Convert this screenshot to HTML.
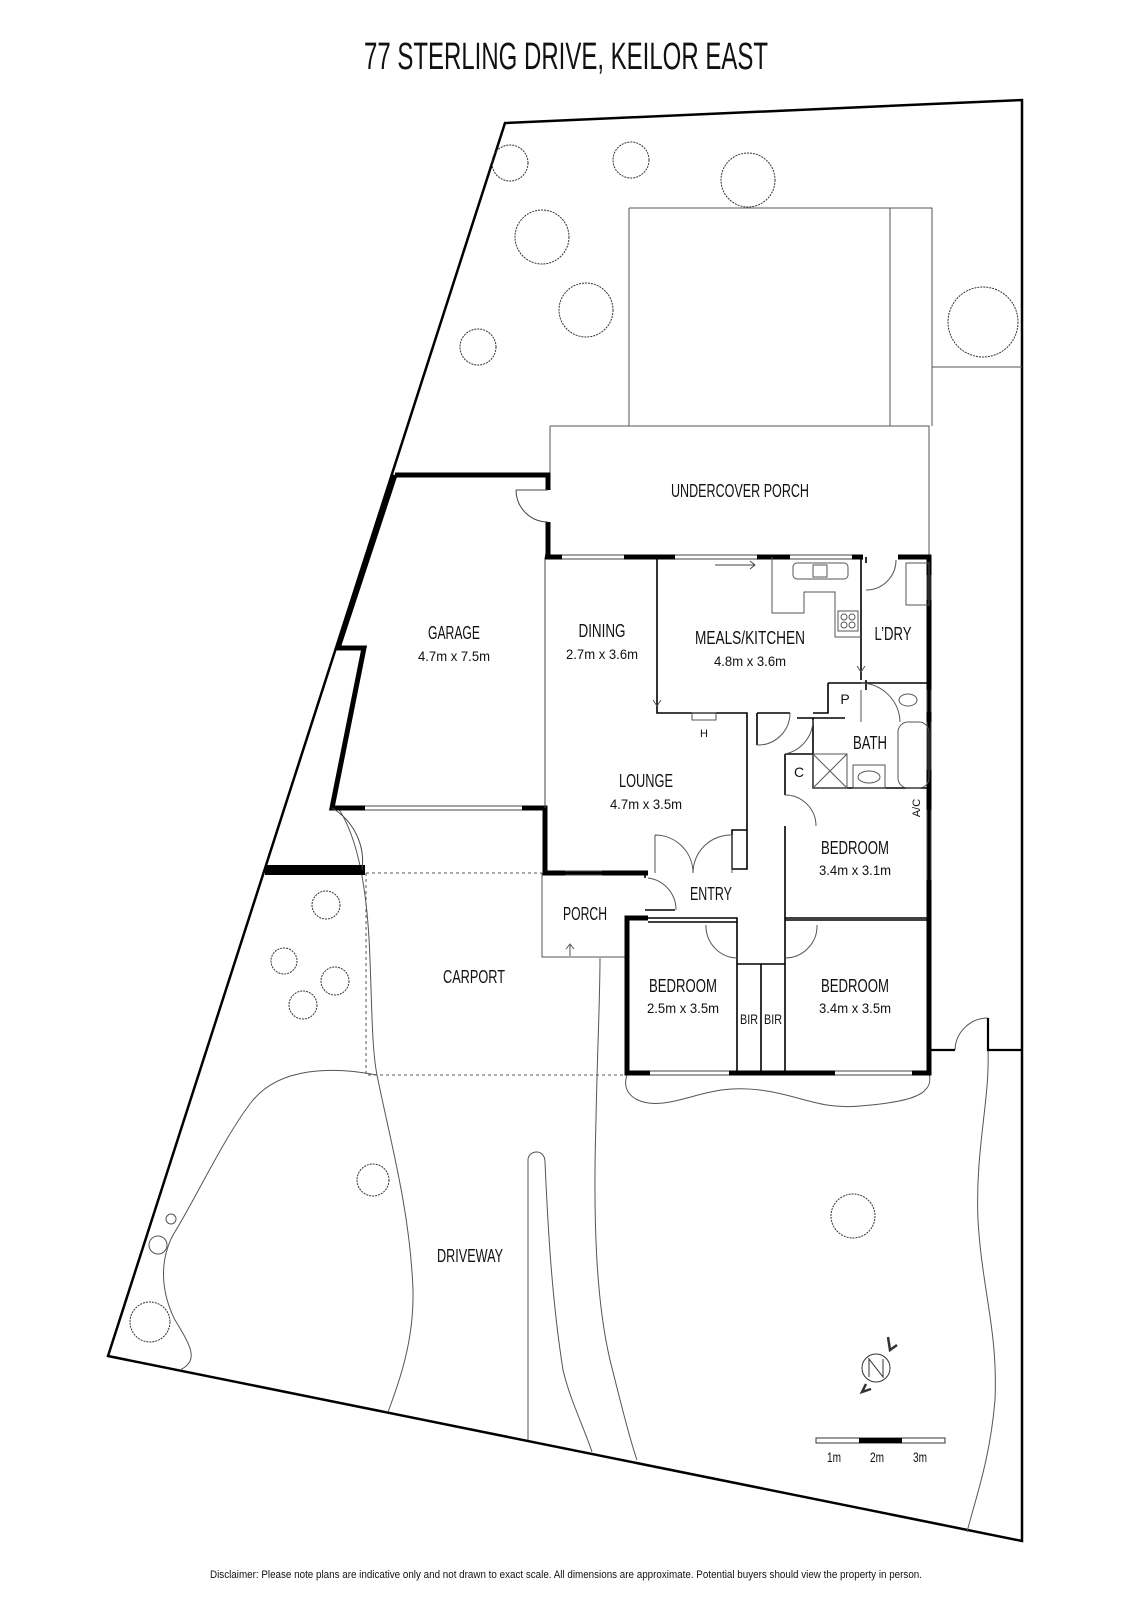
<!DOCTYPE html>
<html><head><meta charset="utf-8"><style>
html,body{margin:0;padding:0;background:#fff;}
svg{display:block;}
text{font-family:"Liberation Sans Narrow","Liberation Sans",sans-serif;fill:#111;text-anchor:middle;}
.l{font-size:18px;}
.d{font-size:14px;}
</style></head><body>
<svg width="1131" height="1600" viewBox="0 0 1131 1600" xmlns="http://www.w3.org/2000/svg">
<rect width="1131" height="1600" fill="#fff"/>
<text x="566" y="69" style="font-size:38px" textLength="404" lengthAdjust="spacingAndGlyphs">77 STERLING DRIVE, KEILOR EAST</text>

<polygon points="505,123 1022,100 1022,1541 108,1356" fill="none" stroke="#000" stroke-width="2.5"/>

<g fill="none" stroke="#555" stroke-width="1">
<path d="M629,208 H932 V426 M629,208 V426 M890,208 V426 M932,367 H1022"/>
<path d="M550,426 H929 V557 M550,426 V475"/>
<g stroke="#333" stroke-dasharray="2 1">
<circle cx="510" cy="163" r="18"/><circle cx="631" cy="160" r="18"/><circle cx="748" cy="180" r="27"/>
<circle cx="542" cy="237" r="27"/><circle cx="586" cy="310" r="27"/><circle cx="478" cy="347" r="18"/>
<circle cx="983" cy="322" r="35"/>
<circle cx="326" cy="905" r="14"/><circle cx="284" cy="961" r="13"/><circle cx="335" cy="981" r="14"/><circle cx="303" cy="1005" r="14"/>
<circle cx="373" cy="1180" r="16"/><circle cx="853" cy="1216" r="22"/><circle cx="150" cy="1322" r="20"/>
</g>
<circle cx="171" cy="1219" r="5"/><circle cx="158" cy="1245" r="9"/>
<path d="M338,808 C360,840 368,900 370,960 C372,1010 372,1050 377,1075 C390,1140 410,1210 413,1290 C414,1340 400,1380 388,1412"/>
<path d="M377,1075 C330,1066 280,1068 253,1100 C225,1135 195,1200 173,1235 C160,1260 160,1290 175,1320 C190,1345 200,1360 180,1370"/>
<path d="M528,1440 V1160 C528,1150 545,1148 545,1162 C548,1230 552,1300 563,1370 C570,1400 585,1430 592,1452"/>
<path d="M600,958 C600,1000 597,1060 596,1120 C593,1220 596,1300 610,1360 C620,1400 630,1440 637,1460"/>
<path d="M988,1050 C990,1100 975,1150 978,1220 C982,1290 998,1330 995,1400 C990,1460 975,1500 967,1532"/>
<path d="M627,1075 C620,1095 640,1108 670,1102 C700,1096 720,1085 760,1090 C800,1095 820,1110 860,1106 C910,1102 935,1095 929,1073"/>
<path d="M366,873 H542 M366,873 V1075 H627" stroke-dasharray="3 3"/>
<path d="M542,873 V957 H627"/>
<path d="M570,956 V944 M566,949 L570,944 L574,949"/>
</g>

<g fill="none" stroke="#000" stroke-width="5" stroke-linejoin="miter">
<path d="M395,475 H548 V490 M548,522 V557 M395,475 L338,648 H364 L332,808 H365 M522,808 H545 V873 H648"/>
<path d="M265,870 H365" stroke-width="10"/>
</g>
<g fill="none" stroke="#444" stroke-width="1">
<path d="M365,806 H522 M365,810 H522"/>
<path d="M516,490 H548 M516,490 A32,32 0 0 0 548,522"/>
<path d="M332,808 A62,62 0 0 1 362,870"/>
<path d="M545,557 V808"/>
</g>

<g fill="none" stroke="#000" stroke-width="5">
<path d="M545,557 H562 M624,557 H675 M757,557 H790 M852,557 H863 M898,557 H929 V1073 H912 M835,1073 H729 M650,1073 H627 V918 H648"/>
</g>
<g fill="none" stroke="#444" stroke-width="1">
<path d="M562,555 H624 M562,559 H624 M675,555 H757 M675,559 H757 M790,555 H852 M790,559 H852 M565,871 H602 M565,875 H602 M650,1071 H729 M650,1075 H729 M835,1071 H912 M835,1075 H912 M927,575 V600 M931,575 V600 M927,690 V712 M931,690 V712 M927,722 V770 M931,722 V770 M927,810 V880 M931,810 V880"/>
<path d="M715,565 H755 M750,561 L755,565 L750,569"/>
</g>
<g fill="none" stroke="#000" stroke-width="1.6">
<path d="M657,557 V713 H747 V830 M757,713 V745 M757,713 H790 M861,557 V680 M861,683 H929 M828,683 V713 H813 M797,718 H845 M813,718 V754 M785,754 H813 V788 H929 M785,754 V795 M785,826 V918 H929 M785,920 H929 M648,918 H737 V958 M648,922 H737 M785,918 V958 M737,964 H785 M737,958 V1073 M761,964 V1073 M785,958 V1073 M645,873 V878 M645,910 H675 M732,830 H747 V869 H732 Z M828,683 H861"/>
<path d="M866,557 V563 M866,680 V690"/>
</g>
<g fill="none" stroke="#555" stroke-width="1">
<path d="M757,745 A32,32 0 0 0 790,713"/>
<path d="M813,720 A35,35 0 0 1 785,754"/>
<path d="M785,795 A31,31 0 0 1 816,826"/>
<path d="M648,878 A32,32 0 0 1 676,910"/>
<path d="M655,835 V873 M732,835 V873 M655,835 A38,38 0 0 1 693,873 M732,835 A38,38 0 0 0 693,873"/>
<path d="M706,925 A32,32 0 0 0 737,958 M817,925 A32,32 0 0 1 785,958"/>
<path d="M866,590 A30,30 0 0 0 896,560"/>
<path d="M861,683 A40,40 0 0 1 900,722 M861,690 V722"/>
<path d="M657,706 L653,700 M657,706 L661,700 M861,672 L857,666 M861,672 L865,666"/>
<path d="M772,557 V613 H804 V592 H835 V637 H861"/>
<rect x="793" y="563" width="55" height="16" rx="4"/>
<rect x="813" y="565" width="14" height="12"/>
<rect x="838" y="611" width="20" height="20"/>
<circle cx="844" cy="617" r="3"/><circle cx="852" cy="617" r="3"/><circle cx="844" cy="625" r="3"/><circle cx="852" cy="625" r="3"/>
<rect x="906" y="563" width="23" height="42"/>
<rect x="813" y="754" width="34" height="34"/><path d="M813,754 L847,788 M847,754 L813,788"/>
<rect x="853" y="765" width="32" height="23"/><ellipse cx="869" cy="777" rx="11" ry="6"/>
<rect x="898" y="722" width="31" height="66" rx="10"/>
<ellipse cx="908" cy="700" rx="9" ry="6"/>
<rect x="692" y="713" width="24" height="7"/>
<path d="M955,1050 A33,33 0 0 1 988,1018"/>
</g>
<g fill="none" stroke="#000" stroke-width="2.2">
<path d="M929,1050 H955 M988,1018 V1050 H1022"/>
</g>

<g fill="none" stroke="#333" stroke-width="1">
<circle cx="876" cy="1368" r="14"/>
<path d="M869,1377 V1359 L883,1377 V1359"/>
<path d="M888,1337 L890,1350 L897,1345" stroke-width="2.5"/>
<path d="M866,1384 L862,1392 L871,1389" stroke-width="2.5"/>
<rect x="816" y="1438" width="129" height="5"/>
</g>
<rect x="859" y="1438" width="43" height="5" fill="#000"/>
<text x="834" y="1462" class="d" textLength="14" lengthAdjust="spacingAndGlyphs">1m</text>
<text x="877" y="1462" class="d" textLength="14" lengthAdjust="spacingAndGlyphs">2m</text>
<text x="920" y="1462" class="d" textLength="14" lengthAdjust="spacingAndGlyphs">3m</text>

<text x="740" y="497" class="l" textLength="138" lengthAdjust="spacingAndGlyphs">UNDERCOVER PORCH</text>
<text x="454" y="639" class="l" textLength="52" lengthAdjust="spacingAndGlyphs">GARAGE</text>
<text x="454" y="661" class="d" textLength="72" lengthAdjust="spacingAndGlyphs">4.7m x 7.5m</text>
<text x="602" y="637" class="l" textLength="47" lengthAdjust="spacingAndGlyphs">DINING</text>
<text x="602" y="659" class="d" textLength="72" lengthAdjust="spacingAndGlyphs">2.7m x 3.6m</text>
<text x="750" y="644" class="l" textLength="110" lengthAdjust="spacingAndGlyphs">MEALS/KITCHEN</text>
<text x="750" y="666" class="d" textLength="72" lengthAdjust="spacingAndGlyphs">4.8m x 3.6m</text>
<text x="893" y="640" class="l" textLength="37" lengthAdjust="spacingAndGlyphs">L’DRY</text>
<text x="845" y="704" class="d">P</text>
<text x="799" y="777" class="d">C</text>
<text x="870" y="749" class="l" textLength="34" lengthAdjust="spacingAndGlyphs">BATH</text>
<text x="704" y="737" style="font-size:11px">H</text>
<text x="646" y="787" class="l" textLength="54" lengthAdjust="spacingAndGlyphs">LOUNGE</text>
<text x="646" y="809" class="d" textLength="72" lengthAdjust="spacingAndGlyphs">4.7m x 3.5m</text>
<text x="916" y="812" style="font-size:11px" transform="rotate(-90 916 808)">A/C</text>
<text x="855" y="854" class="l" textLength="68" lengthAdjust="spacingAndGlyphs">BEDROOM</text>
<text x="855" y="875" class="d" textLength="72" lengthAdjust="spacingAndGlyphs">3.4m x 3.1m</text>
<text x="711" y="900" class="l" textLength="42" lengthAdjust="spacingAndGlyphs">ENTRY</text>
<text x="585" y="920" class="l" textLength="44" lengthAdjust="spacingAndGlyphs">PORCH</text>
<text x="683" y="992" class="l" textLength="68" lengthAdjust="spacingAndGlyphs">BEDROOM</text>
<text x="683" y="1013" class="d" textLength="72" lengthAdjust="spacingAndGlyphs">2.5m x 3.5m</text>
<text x="749" y="1024" class="d" textLength="18" lengthAdjust="spacingAndGlyphs">BIR</text>
<text x="773" y="1024" class="d" textLength="18" lengthAdjust="spacingAndGlyphs">BIR</text>
<text x="855" y="992" class="l" textLength="68" lengthAdjust="spacingAndGlyphs">BEDROOM</text>
<text x="855" y="1013" class="d" textLength="72" lengthAdjust="spacingAndGlyphs">3.4m x 3.5m</text>
<text x="474" y="983" class="l" textLength="62" lengthAdjust="spacingAndGlyphs">CARPORT</text>
<text x="470" y="1262" class="l" textLength="66" lengthAdjust="spacingAndGlyphs">DRIVEWAY</text>
<text x="566" y="1578" style="font-size:11px" textLength="712" lengthAdjust="spacingAndGlyphs">Disclaimer: Please note plans are indicative only and not drawn to exact scale. All dimensions are approximate. Potential buyers should view the property in person.</text>
</svg>
</body></html>
